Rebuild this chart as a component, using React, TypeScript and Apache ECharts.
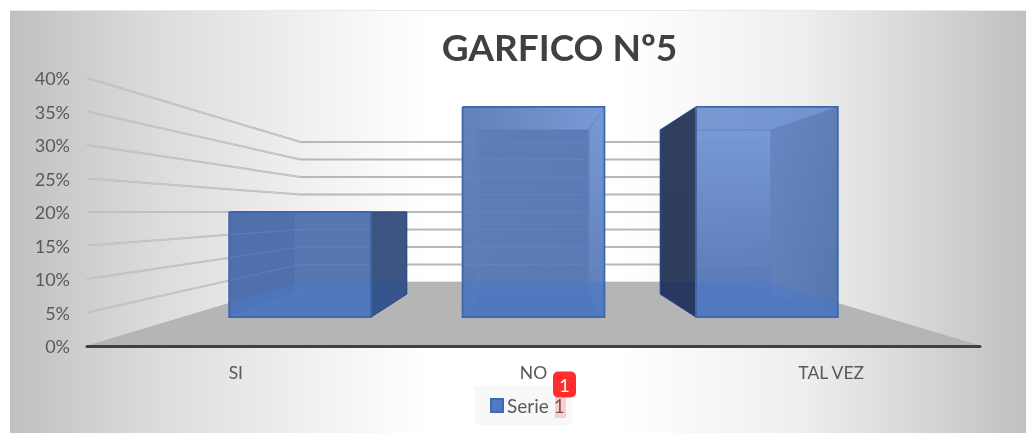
import React, { useEffect, useRef } from "react";
import * as echarts from "echarts";

const categories = ["SI", "NO", "TAL VEZ"];
const seriesName = "Serie 1";
const seriesValues = [20, 40, 40];
const gridTicks = [5, 10, 15, 20, 25, 30, 35, 40];
const titleText = "GARFICO Nº5";

const FONT = "Lato, Carlito, sans-serif";
// perspective model
const BACK_SCALE = 0.522;
const BAR_FRONT = 0.784;
const BAR_BACK = 0.612;
const BAR_WIDTH = 0.608;
const HORIZON_VALUE = 20;

type Pt = number[];
const lin = (x0: number, y0: number, x1: number, y1: number, c0: string, c1: string) => ({
  type: "linear", x: x0, y: y0, x2: x1, y2: y1,
  colorStops: [{ offset: 0, color: c0 }, { offset: 1, color: c1 }],
});

const facePalette = [
  {
    back: "rgba(76,110,172,0.94)",
    left: "rgba(70,104,168,0.94)",
    right: "rgba(60,84,128,0.97)",
    top: "rgba(76,110,172,0.94)",
    bottom: "rgba(76,110,172,0.94)",
    sideFloor: "rgba(40,85,165,0.3)",
    outer: "right",
  },
  {
    back: lin(0, 0, 1, 1, "rgba(84,116,178,0.94)", "rgba(80,112,172,0.94)"),
    left: lin(0, 0, 0, 1, "rgba(92,122,182,0.94)", "rgba(80,112,174,0.94)"),
    right: lin(0, 0, 0, 1, "rgba(112,148,210,0.94)", "rgba(82,116,178,0.94)"),
    top: lin(0, 0, 1, 0, "rgba(88,120,182,0.94)", "rgba(112,148,210,0.94)"),
    bottom: "rgba(78,112,174,0.94)",
    sideFloor: "",
    outer: "",
  },
  {
    back: lin(0, 0, 0, 1, "rgba(112,148,210,0.94)", "rgba(80,114,178,0.94)"),
    left: "rgba(46,60,90,0.97)",
    right: lin(0, 0, 1, 1, "rgba(96,128,190,0.94)", "rgba(76,110,170,0.94)"),
    top: lin(0, 0, 1, 0, "rgba(114,148,210,0.94)", "rgba(106,142,204,0.94)"),
    bottom: "rgba(80,114,178,0.94)",
    sideFloor: "rgba(25,50,105,0.35)",
    outer: "left",
  },
];

// Convex clip of a polygon against another convex polygon (Sutherland-Hodgman).
function clipPoly(subject: Pt[], clip: Pt[]): Pt[] {
  let out = subject;
  let area = 0;
  for (let i = 0; i < clip.length; i++) {
    const a = clip[i], b = clip[(i + 1) % clip.length];
    area += a[0] * b[1] - b[0] * a[1];
  }
  const sign = area > 0 ? 1 : -1;
  for (let i = 0; i < clip.length; i++) {
    const a = clip[i], b = clip[(i + 1) % clip.length];
    const side = (p: Pt) => sign * ((b[0] - a[0]) * (p[1] - a[1]) - (b[1] - a[1]) * (p[0] - a[0]));
    const input = out;
    out = [];
    for (let j = 0; j < input.length; j++) {
      const p = input[j], q = input[(j + 1) % input.length];
      const sp = side(p), sq = side(q);
      if (sp >= 0) out.push(p);
      if (sp * sq < 0) {
        const t = sp / (sp - sq);
        out.push([p[0] + (q[0] - p[0]) * t, p[1] + (q[1] - p[1]) * t]);
      }
    }
    if (!out.length) return out;
  }
  return out;
}

function clipLineX(points: Pt[], lo: number, hi: number): Pt[] {
  const res: Pt[] = [];
  for (let i = 0; i < points.length - 1; i++) {
    const [x0, y0] = points[i];
    const [x1, y1] = points[i + 1];
    const a = Math.max(x0, lo), b = Math.min(x1, hi);
    if (a >= b) continue;
    const f = (x: number) => y0 + ((y1 - y0) * (x - x0)) / (x1 - x0);
    res.push([a, f(a)], [b, f(b)]);
  }
  return res;
}

export default function App() {
  const ref = useRef<HTMLDivElement>(null);
  useEffect(() => {
    const chart = echarts.init(ref.current!, null, { renderer: "svg" });

    const makeProj = (api: any) => {
      const cx = api.coord([1, 0])[0];
      const hy = api.coord([0, HORIZON_VALUE])[1];
      return (x: number, y: number, s: number): Pt => [cx + (x - cx) * s, hy + (y - hy) * s];
    };
    const floorPts = (api: any, P: any): Pt[] => {
      const y0 = api.coord([0, 0])[1];
      const bw = api.size([1, 0])[0];
      const l = api.coord([0, 0])[0] - bw / 2;
      const r = api.coord([2, 0])[0] + bw / 2;
      return [P(l, y0, 1), P(l, y0, BACK_SCALE), P(r, y0, BACK_SCALE), P(r, y0, 1)];
    };
    const wallLine = (api: any, P: any, v: number): Pt[] => {
      const y = api.coord([0, v])[1];
      const bw = api.size([1, 0])[0];
      const l = api.coord([0, 0])[0] - bw / 2;
      const r = api.coord([2, 0])[0] + bw / 2;
      return [P(l, y, 1), P(l, y, BACK_SCALE), P(r, y, BACK_SCALE)];
    };

    const renderFloor = (_p: any, api: any) => {
      const P = makeProj(api);
      return {
        type: "polygon",
        shape: { points: floorPts(api, P) },
        style: { fill: "#b5b5b5", stroke: "#a8a8a8", lineWidth: 0.5 },
      };
    };

    const renderWall = (_p: any, api: any) => {
      const P = makeProj(api);
      const pts = wallLine(api, P, api.value(0));
      return {
        type: "group",
        children: [
          { type: "polyline", shape: { points: pts }, style: { fill: "none", stroke: "#b8b8b8", lineWidth: 2 } },
          { type: "polyline", shape: { points: pts.slice(0, 2) }, style: { fill: "none", stroke: "#dcdcdc", lineWidth: 0.5 } },
        ],
      };
    };

    const renderBar = (p: any, api: any) => {
      const P = makeProj(api);
      const idx = api.value(0);
      const val = api.value(1);
      const c = api.coord([idx, val]);
      const y0 = api.coord([idx, 0])[1];
      const w = api.size([1, 0])[0] * BAR_WIDTH;
      const l = c[0] - w / 2, r = c[0] + w / 2, t = c[1];
      const F = (x: number, y: number) => P(x, y, BAR_FRONT);
      const B = (x: number, y: number) => P(x, y, BAR_BACK);
      const f = [F(l, t), F(r, t), F(r, y0), F(l, y0)];
      const b = [B(l, t), B(r, t), B(r, y0), B(l, y0)];
      const col = facePalette[p.dataIndex];
      const poly = (points: Pt[], fill: any) => ({ type: "polygon", shape: { points }, style: { fill, stroke: "none" } });
      const line = (points: Pt[], stroke: string, lineWidth: number) => ({
        type: "polyline", shape: { points }, style: { fill: "none", stroke, lineWidth },
      });
      const floor = floorPts(api, P);
      const leftFace = [f[0], b[0], b[3], f[3]];
      const rightFace = [f[1], b[1], b[2], f[2]];
      const children: any[] = [
        poly(b, col.back),
        poly([f[0], f[1], b[1], b[0]], col.top),
        poly([f[3], f[2], b[2], b[3]], col.bottom),
      ];
      if (col.outer !== "left") children.push(poly(leftFace, col.left));
      if (col.outer !== "right") children.push(poly(rightFace, col.right));
      const through = clipPoly(floor, f);
      if (through.length) children.push(poly(through, "rgba(80,124,200,0.6)"));
      gridTicks.forEach((v) => {
        if (val <= HORIZON_VALUE && v >= val) return;
        const seg = clipLineX(wallLine(api, P, v), f[0][0], f[1][0]);
        for (let i = 0; i + 1 < seg.length; i += 2) {
          children.push(line([seg[i], seg[i + 1]], "rgba(120,155,225,0.3)", 1.5));
        }
      });
      const inner = "rgba(84,122,200,0.7)";
      children.push(
        line([b[0], b[1], b[2], b[3], b[0]], inner, 1.2),
        line([f[0], b[0]], inner, 1.2),
        line([f[1], b[1]], inner, 1.2),
        line([f[2], b[2]], inner, 1.2),
        line([f[3], b[3]], inner, 1.2)
      );
      // the side face that sticks out of the front rectangle covers the edges behind it
      if (col.outer) {
        const outer = col.outer === "left" ? leftFace : rightFace;
        children.push(poly(outer, col.outer === "left" ? col.left : col.right));
        const s = clipPoly(floor, outer);
        if (s.length) children.push(poly(s, col.sideFloor));
        children.push(line([...outer, outer[0]], "rgba(38,66,120,0.9)", 1));
      }
      children.push(line([f[0], f[1], f[2], f[3], f[0]], "#3e66ad", 1.8));
      return { type: "group", children };
    };

    const option: any = {
      animation: false,
      backgroundColor: "transparent",
      title: {
        text: titleText,
        left: 554.5,
        top: 23,
        textAlign: "center",
        textStyle: { fontFamily: FONT, fontSize: 37, fontWeight: "bold", color: "#404040" },
      },
      graphic: [
        {
          type: "rect",
          z: -10,
          silent: true,
          shape: { x: 10, y: 10, width: 1016, height: 423 },
          style: {
            fill: {
              type: "linear", x: 0, y: 0, x2: 1, y2: 0,
              colorStops: [
                { offset: 0, color: "#c0c0c0" },
                { offset: 0.14, color: "#dbdbdb" },
                { offset: 0.29, color: "#f0f0f0" },
                { offset: 0.41, color: "#ffffff" },
                { offset: 0.6, color: "#ffffff" },
                { offset: 0.78, color: "#eeeeee" },
                { offset: 0.88, color: "#dadada" },
                { offset: 1, color: "#c0c0c0" },
              ],
            },
          },
        },
        {
          type: "line",
          z: -9,
          silent: true,
          shape: { x1: 10, y1: 10.5, x2: 1026, y2: 10.5 },
          style: { stroke: "#e8e8e8", lineWidth: 1 },
        },
        {
          type: "rect",
          z: 50,
          silent: true,
          shape: { x: 555, y: 395, width: 11, height: 23 },
          style: { fill: "rgba(255,60,60,0.22)" },
        },
        {
          type: "rect",
          z: 60,
          silent: true,
          shape: { x: 553, y: 371.5, width: 23, height: 26, r: 5 },
          style: { fill: "#ff2d2d" },
        },
        {
          type: "text",
          z: 61,
          silent: true,
          x: 564.5,
          y: 384.5,
          style: { text: "1", fill: "#ffffff", font: `18px ${FONT}`, textAlign: "center", textVerticalAlign: "middle" },
        },
      ],
      legend: {
        data: [seriesName],
        left: 475,
        top: 386,
        padding: [10, 7, 10, 15],
        itemWidth: 12,
        itemHeight: 13,
        itemGap: 0,
        backgroundColor: "rgba(245,245,245,0.75)",
        textStyle: { fontFamily: FONT, fontSize: 19, color: "#595959", padding: [0, 0, 0, -1] },
        icon: "rect",
      },
      grid: { left: 87, top: 78, width: 893, height: 268, containLabel: false },
      xAxis: {
        type: "category",
        data: categories,
        axisTick: { show: false },
        axisLine: { lineStyle: { color: "#404040", width: 3 } },
        axisLabel: { fontFamily: FONT, fontSize: 17.5, color: "#595959", margin: 17 },
        z: 5,
      },
      yAxis: {
        type: "value",
        min: 0,
        max: 40,
        interval: 5,
        axisLine: { show: false },
        axisTick: { show: false },
        splitLine: { show: false },
        axisLabel: { fontFamily: FONT, fontSize: 18, color: "#595959", margin: 17, formatter: "{value}%" },
      },
      series: [
        {
          name: "floor",
          type: "custom",
          z: 1,
          silent: true,
          renderItem: renderFloor,
          data: [[0, 0]],
          encode: { x: 0, y: 1 },
        },
        {
          name: "walls",
          type: "custom",
          z: 2,
          silent: true,
          renderItem: renderWall,
          data: gridTicks.map((v) => [v]),
          encode: { y: 0 },
        },
        {
          name: seriesName,
          type: "custom",
          z: 3,
          itemStyle: { color: "#5279c4", borderColor: "#4169b3", borderWidth: 1 },
          renderItem: renderBar,
          data: seriesValues.map((v, i) => [i, v]),
          encode: { x: 0, y: 1 },
        },
      ],
    };
    chart.setOption(option);
    return () => chart.dispose();
  }, []);
  return <div ref={ref} style={{ position: "fixed", left: 0, top: 0, width: 1026, height: 433, filter: "blur(0.4px)" }} />;
}
